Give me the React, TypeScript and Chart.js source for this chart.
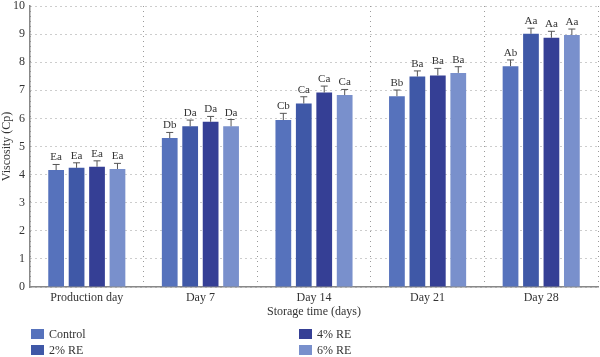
import React, { useEffect, useRef } from "react";
import { Chart, registerables } from "chart.js";

Chart.register(...registerables);

const categories = ["Production day", "Day 7", "Day 14", "Day 21", "Day 28"];
const seriesNames = ["Control", "2% RE", "4% RE", "6% RE"];
const colors = ["#5672BC", "#3F58A7", "#353F95", "#7990CC"];

const controlValues = [4.16, 5.30, 5.94, 6.79, 7.86];
const re2Values = [4.24, 5.72, 6.53, 7.49, 9.01];
const re4Values = [4.28, 5.88, 6.92, 7.53, 8.87];
const re6Values = [4.20, 5.72, 6.83, 7.62, 8.97];

const controlErr = [0.2, 0.2, 0.24, 0.22, 0.22];
const re2Err = [0.18, 0.22, 0.24, 0.2, 0.2];
const re4Err = [0.21, 0.19, 0.23, 0.25, 0.23];
const re6Err = [0.2, 0.24, 0.2, 0.22, 0.21];

const controlLetters = ["Ea", "Db", "Cb", "Bb", "Ab"];
const re2Letters = ["Ea", "Da", "Ca", "Ba", "Aa"];
const re4Letters = ["Ea", "Da", "Ca", "Ba", "Aa"];
const re6Letters = ["Ea", "Da", "Ca", "Ba", "Aa"];

const yTicks = [0, 1, 2, 3, 4, 5, 6, 7, 8, 9, 10];

const FONT = "'Liberation Serif', 'DejaVu Serif', serif";

export default function App() {
  const ref = useRef<HTMLCanvasElement | null>(null);

  useEffect(() => {
    document.body.style.margin = "0";
    const values = [controlValues, re2Values, re4Values, re6Values];
    const errs = [controlErr, re2Err, re4Err, re6Err];
    const letters = [controlLetters, re2Letters, re4Letters, re6Letters];

    const errorPlugin = {
      id: "errorBars",
      afterDatasetsDraw(chart: any) {
        const ctx = chart.ctx;
        const yScale = chart.scales.y;
        ctx.save();
        chart.data.datasets.forEach((ds: any, di: number) => {
          const meta = chart.getDatasetMeta(di);
          meta.data.forEach((bar: any, i: number) => {
            const v = values[di][i];
            const e = errs[di][i];
            const yTop = yScale.getPixelForValue(v);
            const yCap = yScale.getPixelForValue(v + e);
            ctx.strokeStyle = "#555";
            ctx.lineWidth = 1;
            ctx.beginPath();
            ctx.moveTo(bar.x, yTop);
            ctx.lineTo(bar.x, yCap);
            ctx.moveTo(bar.x - 3.5, yCap);
            ctx.lineTo(bar.x + 3.5, yCap);
            ctx.stroke();
            ctx.fillStyle = "#333";
            ctx.font = `11px ${FONT}`;
            ctx.textAlign = "center";
            ctx.textBaseline = "alphabetic";
            ctx.fillText(letters[di][i], bar.x, yCap - 4);
          });
        });
        ctx.restore();
      },
    };

    const legendPlugin = {
      id: "customLegend",
      afterDraw(chart: any) {
        const ctx = chart.ctx;
        const left = chart.chartArea.left;
        const colX = [left + 1, left + 269];
        const rowY = [334, 350];
        ctx.save();
        chart.data.datasets.forEach((ds: any, di: number) => {
          const col = Math.floor(di / 2);
          const row = di % 2;
          const x = colX[col];
          const y = rowY[row];
          ctx.fillStyle = ds.backgroundColor;
          ctx.fillRect(x, y - 5, 13, 10);
          ctx.fillStyle = "#333";
          ctx.font = `12px ${FONT}`;
          ctx.textAlign = "left";
          ctx.textBaseline = "middle";
          ctx.fillText(ds.label, x + 18, y + 1);
        });
        ctx.restore();
      },
    };

    const chart = new Chart(ref.current as HTMLCanvasElement, {
      type: "bar",
      data: {
        labels: categories,
        datasets: seriesNames.map((name, i) => ({
          label: name,
          data: values[i],
          backgroundColor: colors[i],
          borderWidth: 0,
          categoryPercentage: 0.72,
          barPercentage: 0.77,
        })),
      },
      options: {
        responsive: false,
        animation: false,
        layout: { padding: { left: 0, right: 2, top: 6, bottom: 38 } },
        plugins: {
          legend: { display: false },
          tooltip: { enabled: false },
        },
        scales: {
          x: {
            grid: {
              display: true,
              color: "#9a9a9a",
              lineWidth: 1,
              drawTicks: false,
              offset: true,
            },
            border: { display: true, color: "#888", width: 1.5, dash: [1, 4] },
            ticks: {
              color: "#333",
              font: { family: FONT, size: 12 },
              padding: 4,
            },
            title: {
              display: true,
              text: "Storage time (days)",
              color: "#333",
              font: { family: FONT, size: 12 },
              padding: { top: 1, bottom: 0 },
            },
            afterFit(scale: any) {
              scale.height = 32;
              scale.paddingLeft = 0;
              scale.paddingRight = 0;
            },
          },
          y: {
            min: 0,
            max: 10,
            afterBuildTicks(scale: any) {
              scale.ticks = yTicks.map((v) => ({ value: v }));
            },
            grid: {
              color: "#9a9a9a",
              lineWidth: 1,
              drawTicks: false,
            },
            border: { display: true, color: "#888", width: 1.5, dash: [1, 4] },
            ticks: {
              color: "#333",
              font: { family: FONT, size: 12 },
              padding: 5,
            },
            title: {
              display: true,
              text: "Viscosity (Cp)",
              color: "#333",
              font: { family: FONT, size: 12 },
              padding: { top: 0, bottom: 2 },
            },
            afterFit(scale: any) {
              scale.width = 30;
              scale.paddingTop = 0;
              scale.paddingBottom = 0;
            },
          },
        },
      },
      plugins: [errorPlugin, legendPlugin],
    });
    return () => chart.destroy();
  }, []);

  return (
    <div style={{ position: "absolute", left: 0, top: 0, width: 600, height: 357 }}>
      <canvas ref={ref} width={600} height={357} />
    </div>
  );
}
